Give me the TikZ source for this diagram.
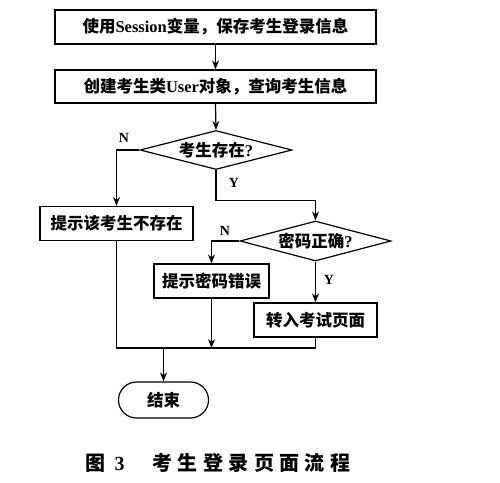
\documentclass[tikz,border=0pt]{standalone}
\usepackage{fontspec}
\setmainfont{Liberation Serif}
\newfontfamily\cjk{Noto Sans CJK SC}
\usetikzlibrary{shapes.geometric,arrows.meta}
\newcommand{\cs}[1]{{\cjk #1}}
\newcommand{\capsp}{\hspace{5.4pt}}
\begin{document}
\begin{tikzpicture}[x=1pt,y=-1pt,
  line width=1.2pt,
  every node/.style={font=\fontsize{16.5pt}{18pt}\selectfont\bfseries},
  procbox/.style={draw,rectangle,inner sep=0pt},
  decbox/.style={draw,diamond,inner sep=0pt,aspect=3.8},
  termbox/.style={draw,rectangle,rounded corners=18pt,inner sep=0pt,minimum width=90pt,minimum height=36pt},
  arr/.style={-{Stealth[length=9pt,width=7pt]}},
  lbl/.style={font=\fontsize{14pt}{16pt}\selectfont\bfseries}]
\useasboundingbox (0,0) rectangle (500,482);
\node[procbox,minimum width=321pt,minimum height=34pt] (b1) at (215.5,27) {\cs{使用}Session\cs{变量，保存考生登录信息}};
\node[procbox,minimum width=321pt,minimum height=33pt] (b2) at (215.5,86.5) {\cs{创建考生类}User\cs{对象，查询考生信息}};
\node[decbox,minimum width=152pt,minimum height=39pt] (d1) at (216,150) {\cs{考生存在}?};
\node[procbox,minimum width=153pt,minimum height=34pt] (b3) at (116.5,223.5) {\cs{提示该考生不存在}};
\node[decbox,minimum width=151pt,minimum height=40pt] (d2) at (315.5,241) {\cs{密码正确}?};
\node[procbox,minimum width=115pt,minimum height=34pt] (b4) at (211.5,281) {\cs{提示密码错误}};
\node[procbox,minimum width=123pt,minimum height=34pt] (b5) at (315.5,320) {\cs{转入考试页面}};
\node[termbox] (e) at (163.5,400) {\cs{结束}};
\coordinate (m) at (163.5,348);
\draw[arr] (b1.south) -- (b2.north);
\draw[arr] (b2.south) -- (d1.north);
\draw[arr] (d1.west) -| (b3.north);
\draw[arr] (d1.south) -- ++(0,30) -| (d2.north);
\draw[arr] (d2.west) -| (b4.north);
\draw[arr] (d2.south) -- (b5.north);
\draw (b3.south) -- (b3.south |- m) -- (b5.south |- m) -- (b5.south);
\draw[arr] (b4.south) -- (b4.south |- m);
\draw[arr] (m) -- (e.north);
\node[lbl] (n1) at (124,138) {N};
\node[lbl] (y1) at (234,183) {Y};
\node[lbl] (n2) at (225,231) {N};
\node[lbl] (y2) at (329,280) {Y};
\node[anchor=west,inner sep=0pt,font=\fontsize{20pt}{22pt}\selectfont\bfseries] (cap) at (85,463)
  {\cs{图}\hspace{9pt}3\hspace{28pt}\cs{考\capsp 生\capsp 登\capsp 录\capsp 页\capsp 面\capsp 流\capsp 程}};
\end{tikzpicture}
\end{document}
